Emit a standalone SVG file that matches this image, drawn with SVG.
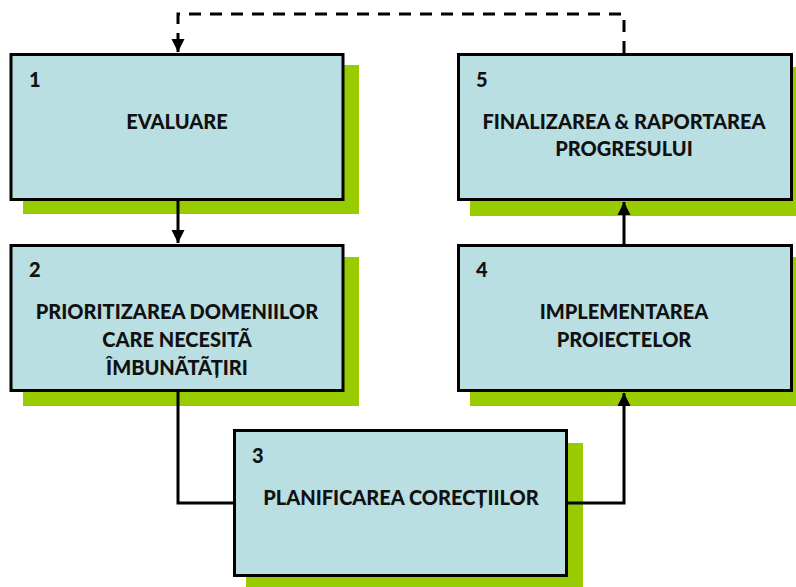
<svg xmlns="http://www.w3.org/2000/svg" width="796" height="587" viewBox="0 0 796 587">
<defs>
<style>
.shadow{fill:#99cc00}
.box{fill:#badfe3;stroke:#000;stroke-width:3}
.t{font-family:Lato,"Open Sans",sans-serif;font-weight:900;font-size:20px;fill:#111;text-anchor:middle}
.n{font-family:Lato,"Open Sans",sans-serif;font-weight:900;font-size:20px;fill:#111}
.c{fill:none;stroke:#000;stroke-width:3}
.d{fill:none;stroke:#000;stroke-width:3;stroke-dasharray:12,9}
</style>
<marker id="ah" viewBox="0 0 10 10" refX="10" refY="5" markerWidth="4.4" markerHeight="4.4" orient="auto" markerUnits="strokeWidth">
<path d="M0,0 L10,5 L0,10 z" fill="#000"/>
</marker>
</defs>
<rect width="796" height="587" fill="#fff"/>
<g id="node1">
<rect class="shadow" x="23" y="65" width="336" height="149"/>
<rect class="box" x="11" y="54.5" width="332" height="145"/>
<text class="n" x="29" y="87">1</text>
<text class="t" x="177" y="129">EVALUARE</text>
</g>
<g id="node5">
<rect class="shadow" x="470" y="67" width="326" height="149"/>
<rect class="box" x="458.5" y="54.5" width="333" height="145"/>
<text class="n" x="476" y="87">5</text>
<text class="t" x="624" y="129">FINALIZAREA &amp; RAPORTAREA</text>
<text class="t" x="624" y="156">PROGRESULUI</text>
</g>
<g id="node2">
<rect class="shadow" x="23" y="257" width="336" height="149"/>
<rect class="box" x="11" y="245.5" width="332" height="145"/>
<text class="n" x="29" y="277">2</text>
<text class="t" x="177" y="319">PRIORITIZAREA DOMENIILOR</text>
<text class="t" x="177" y="347">CARE NECESITÃ</text>
<text class="t" x="177" y="375">ÎMBUNÃTÃȚIRI</text>
</g>
<g id="node4">
<rect class="shadow" x="470" y="257" width="326" height="149"/>
<rect class="box" x="458.5" y="245.5" width="333" height="145"/>
<text class="n" x="476" y="277">4</text>
<text class="t" x="624" y="319">IMPLEMENTAREA</text>
<text class="t" x="624" y="347">PROIECTELOR</text>
</g>
<g id="node3">
<rect class="shadow" x="246" y="443" width="337" height="144"/>
<rect class="box" x="234.5" y="430.5" width="332" height="145"/>
<text class="n" x="252" y="463">3</text>
<text class="t" x="401" y="505">PLANIFICAREA CORECȚIILOR</text>
</g>
<g id="connectors">
<path class="d" d="M624,53 V14 H178 V38"/>
<path class="c" d="M178,38 V52" marker-end="url(#ah)"/>
<path class="c" d="M178,201 V243" marker-end="url(#ah)"/>
<path class="c" d="M178,392 V503 H233"/>
<path class="c" d="M568,503 H624 V393" marker-end="url(#ah)"/>
<path class="c" d="M624,244 V202" marker-end="url(#ah)"/>
</g>
</svg>
